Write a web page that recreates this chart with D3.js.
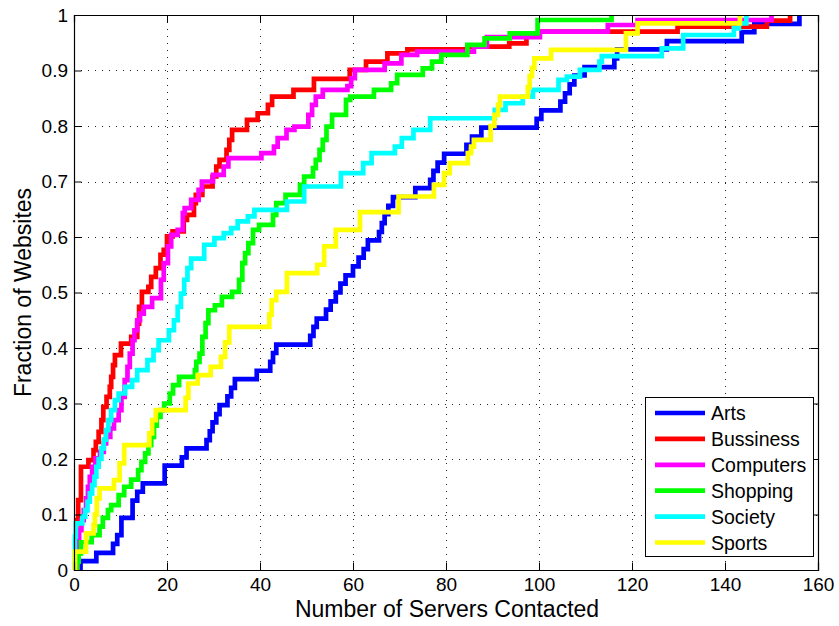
<!DOCTYPE html>
<html>
<head>
<meta charset="utf-8">
<script src="https://cdn.jsdelivr.net/npm/d3@7"></script>
<style>
  html, body { margin: 0; padding: 0; background: #fff; }
  svg { display: block; font-family: "Liberation Sans", Arial, Helvetica, sans-serif; }
</style>
</head>
<body>
<svg id="chart" width="839" height="626"></svg>
<script>
// ---- data: step points [servers, fraction] (value holds until next x) ----
const seriesNames = ["Arts", "Bussiness", "Computers", "Shopping", "Society", "Sports"];
const seriesColors = ["#0000ff", "#ff0000", "#ff00ff", "#00ff00", "#00ffff", "#ffff00"];

const arts = [[1.4,0],[1.4,0.016],[4.8,0.031],[8.4,0.047],[9.3,0.063],[10.2,0.094],[12.6,0.125],[13.6,0.141],[14.8,0.156],[19.5,0.188],[23.2,0.203],[24.2,0.219],[28.5,0.234],[29.2,0.25],[29.8,0.266],[30.6,0.281],[31.3,0.297],[33.0,0.313],[33.8,0.328],[34.6,0.344],[39.3,0.359],[42.2,0.375],[42.8,0.391],[43.5,0.406],[50.8,0.422],[51.5,0.438],[52.2,0.453],[54.2,0.469],[55.2,0.484],[56.3,0.5],[57.3,0.516],[58.4,0.531],[60.0,0.547],[61.2,0.563],[62.3,0.578],[63.2,0.594],[65.6,0.609],[66.2,0.625],[66.8,0.641],[67.6,0.656],[68.6,0.672],[73.4,0.688],[76.6,0.703],[77.3,0.719],[78.2,0.734],[79.6,0.75],[84.4,0.766],[85.6,0.781],[87.6,0.797],[99.5,0.813],[100.5,0.828],[104.6,0.844],[105.6,0.859],[106.6,0.875],[107.6,0.891],[109.8,0.906],[116.2,0.922],[116.8,0.938],[127.5,0.953],[143.6,0.969],[146.3,0.984],[156.0,1]];

const business = [[0.5,0],[0.5,0.09],[0.9,0.126],[1.5,0.186],[3.1,0.198],[4.2,0.216],[4.7,0.231],[5.3,0.249],[5.9,0.27],[6.3,0.294],[7.0,0.312],[7.7,0.33],[8.0,0.348],[8.4,0.369],[8.8,0.387],[10.1,0.408],[12.3,0.42],[13.6,0.444],[14.0,0.474],[14.6,0.501],[16.0,0.51],[16.6,0.528],[17.6,0.544],[18.6,0.568],[19.3,0.577],[20.0,0.601],[21.2,0.61],[23.6,0.631],[24.3,0.64],[25.8,0.661],[26.2,0.676],[27.6,0.691],[29.8,0.709],[30.6,0.727],[31.3,0.739],[32.8,0.757],[33.4,0.775],[34.0,0.793],[37.2,0.811],[39.5,0.823],[41.7,0.838],[42.6,0.853],[47.2,0.865],[51.6,0.885],[59.3,0.901],[62.8,0.916],[67.4,0.931],[71.7,0.938],[84.6,0.943],[93.6,0.949],[97.3,0.964],[100.1,0.97],[129.8,0.979],[149.0,0.99],[154.0,1]];

const computers = [[0.8,0],[0.8,0.045],[1.1,0.072],[1.6,0.09],[2.1,0.108],[2.6,0.129],[3.0,0.15],[3.4,0.168],[3.9,0.186],[4.6,0.201],[5.6,0.213],[6.4,0.228],[6.9,0.24],[7.8,0.255],[8.6,0.27],[9.6,0.288],[10.2,0.312],[10.9,0.342],[11.5,0.366],[12.0,0.39],[12.6,0.414],[13.0,0.432],[13.6,0.45],[14.2,0.462],[15.0,0.474],[16.8,0.49],[18.7,0.523],[19.3,0.553],[20.2,0.583],[20.9,0.604],[22.3,0.613],[23.4,0.643],[23.8,0.652],[25.2,0.667],[26.8,0.685],[27.5,0.7],[29.9,0.712],[32.2,0.727],[33.2,0.742],[40.3,0.751],[43.0,0.763],[43.8,0.778],[45.7,0.793],[47.4,0.799],[50.4,0.82],[51.2,0.838],[52.0,0.853],[53.5,0.865],[58.8,0.872],[59.6,0.886],[60.4,0.901],[66.8,0.913],[70.4,0.928],[73.8,0.934],[86.0,0.943],[88.8,0.96],[100.2,0.97],[114.8,0.982],[121.2,0.991],[150.0,1]];

const shopping = [[0.7,0],[0.7,0.015],[1.0,0.03],[1.5,0.05],[3.8,0.063],[5.5,0.078],[6.2,0.094],[7.3,0.108],[8.0,0.117],[9.6,0.135],[10.8,0.15],[12.3,0.163],[13.8,0.18],[14.5,0.195],[15.3,0.21],[16.0,0.225],[16.6,0.24],[17.2,0.26],[17.8,0.276],[18.6,0.288],[19.4,0.3],[20.6,0.318],[21.3,0.333],[22.6,0.348],[26.0,0.36],[26.3,0.375],[27.0,0.39],[27.6,0.42],[28.3,0.445],[28.9,0.468],[30.3,0.477],[31.8,0.492],[34.0,0.501],[35.5,0.523],[36.2,0.553],[36.8,0.571],[37.5,0.589],[38.5,0.613],[39.8,0.622],[42.8,0.64],[43.5,0.661],[45.5,0.676],[48.6,0.694],[49.5,0.709],[51.4,0.724],[52.0,0.739],[52.8,0.757],[53.5,0.775],[54.3,0.799],[55.5,0.82],[58.5,0.847],[59.4,0.853],[64.5,0.865],[68.2,0.877],[69.5,0.892],[75.0,0.904],[77.0,0.916],[79.0,0.928],[84.6,0.946],[88.3,0.958],[93.7,0.967],[99.7,0.991],[115.6,1]];

const society = [[0.2,0],[0.2,0.06],[0.4,0.084],[1.8,0.096],[2.4,0.108],[2.9,0.123],[3.4,0.138],[3.9,0.153],[4.4,0.168],[4.8,0.186],[5.3,0.2],[5.9,0.219],[6.4,0.235],[6.9,0.252],[7.4,0.27],[8.0,0.288],[8.8,0.306],[9.6,0.318],[11.0,0.33],[12.5,0.342],[13.6,0.36],[15.8,0.378],[17.1,0.396],[18.2,0.414],[20.4,0.432],[21.5,0.45],[22.3,0.474],[23.0,0.498],[23.7,0.523],[24.4,0.544],[25.2,0.561],[28.0,0.586],[30.2,0.598],[32.2,0.607],[33.8,0.616],[35.2,0.628],[37.4,0.637],[38.8,0.649],[45.8,0.664],[49.5,0.691],[57.4,0.715],[62.2,0.733],[64.0,0.751],[69.0,0.763],[70.5,0.778],[73.0,0.793],[76.6,0.814],[90.5,0.829],[92.8,0.841],[96.5,0.853],[98.7,0.865],[104.2,0.883],[106.0,0.889],[108.8,0.901],[113.0,0.916],[113.5,0.926],[126.4,0.94],[131.0,0.964],[141.9,0.976],[143.0,0.985],[144.6,1]];

const sports = [[0.2,0],[0.2,0.033],[2.6,0.066],[4.2,0.081],[4.5,0.1],[4.9,0.129],[5.5,0.147],[8.6,0.162],[9.8,0.192],[10.8,0.225],[16.2,0.246],[16.8,0.27],[17.6,0.288],[24.0,0.31],[24.6,0.336],[26.6,0.351],[29.4,0.366],[31.6,0.384],[32.5,0.41],[33.4,0.438],[42.0,0.46],[42.5,0.486],[43.5,0.501],[45.8,0.535],[52.3,0.55],[53.8,0.583],[56.3,0.613],[61.5,0.645],[69.8,0.673],[77.4,0.694],[79.6,0.715],[80.8,0.733],[84.7,0.751],[85.4,0.763],[86.0,0.775],[89.6,0.8],[90.4,0.82],[91.2,0.838],[91.6,0.853],[97.6,0.87],[98.0,0.89],[98.5,0.905],[99.0,0.922],[102.6,0.937],[118.7,0.967],[121.2,0.985],[143.2,1]];

const allSeries = [arts, business, computers, shopping, society, sports];
const xTicks = [0, 20, 40, 60, 80, 100, 120, 140, 160];
const yTicks = [0, 0.1, 0.2, 0.3, 0.4, 0.5, 0.6, 0.7, 0.8, 0.9, 1];
const xLabel = "Number of Servers Contacted";
const yLabel = "Fraction of Websites";

// ---- layout ----
const L = 74, R = 818, T = 15, B = 570;
const svg = d3.select("#chart");
const x = d3.scaleLinear().domain([0, 160]).range([L, R]);
const y = d3.scaleLinear().domain([0, 1]).range([B, T]);

// grid
const grid = svg.append("g").attr("stroke", "#222").attr("stroke-width", 1)
  .attr("stroke-dasharray", "1,6").attr("fill", "none");
xTicks.filter(t => t > 0 && t < 160).forEach(t => {
  grid.append("line").attr("x1", x(t) + 0.5).attr("x2", x(t) + 0.5).attr("y1", T).attr("y2", B);
});
yTicks.filter(t => t > 0 && t < 1).forEach(t => {
  grid.append("line").attr("x1", L).attr("x2", R).attr("y1", Math.round(y(t)) + 0.5).attr("y2", Math.round(y(t)) + 0.5);
});

// series lines
const line = d3.line().x(d => x(d[0])).y(d => y(d[1])).curve(d3.curveStepAfter);
allSeries.forEach((s, i) => {
  svg.append("path").datum(s).attr("d", line)
    .attr("fill", "none").attr("stroke", seriesColors[i])
    .attr("stroke-width", 4.7).attr("stroke-linejoin", "miter");
});

// axes (inward ticks on all sides, MATLAB style)
const tickLen = 7.5;
const fmtX = d => String(d);
const fmtY = d => (d === 0 || d === 1) ? String(d) : d.toFixed(1);
const axB = svg.append("g").attr("transform", `translate(0,${B})`)
  .call(d3.axisBottom(x).tickValues(xTicks).tickSize(-tickLen).tickPadding(8).tickFormat(fmtX));
const axT = svg.append("g").attr("transform", `translate(0,${T})`)
  .call(d3.axisTop(x).tickValues(xTicks).tickSize(-tickLen).tickFormat(""));
const axL = svg.append("g").attr("transform", `translate(${L},0)`)
  .call(d3.axisLeft(y).tickValues(yTicks).tickSize(-tickLen).tickPadding(6).tickFormat(fmtY));
const axR = svg.append("g").attr("transform", `translate(${R},0)`)
  .call(d3.axisRight(y).tickValues(yTicks).tickSize(-tickLen).tickFormat(""));
[axB, axT, axL, axR].forEach(a => {
  a.selectAll(".domain").attr("stroke", "#000").attr("stroke-width", 1.2);
  a.selectAll(".tick line").attr("stroke", "#000").attr("stroke-width", 1);
  a.selectAll("text").attr("fill", "#000").style("font-size", "19px")
    .style("font-family", "'Liberation Sans', Arial, sans-serif");
});
axB.selectAll("text").attr("dy", "0.71em");

// axis titles
svg.append("text").attr("x", 447).attr("y", 617).attr("text-anchor", "middle")
  .style("font-size", "23px").text(xLabel);
svg.append("text").attr("transform", `translate(31,${(T + B) / 2}) rotate(-90)`)
  .attr("text-anchor", "middle").style("font-size", "23px").text(yLabel);

// legend
const lg = svg.append("g");
lg.append("rect").attr("x", 645.5).attr("y", 397.5).attr("width", 168).attr("height", 159)
  .attr("fill", "#fff").attr("stroke", "#000").attr("stroke-width", 1);
seriesNames.forEach((n, i) => {
  const cy = 413 + i * 25.9;
  lg.append("line").attr("x1", 655).attr("x2", 705).attr("y1", cy).attr("y2", cy)
    .attr("stroke", seriesColors[i]).attr("stroke-width", 4.7);
  lg.append("text").attr("x", 711).attr("y", cy).attr("dy", "0.36em")
    .style("font-size", "19.5px").text(n);
});
</script>
</body>
</html>
